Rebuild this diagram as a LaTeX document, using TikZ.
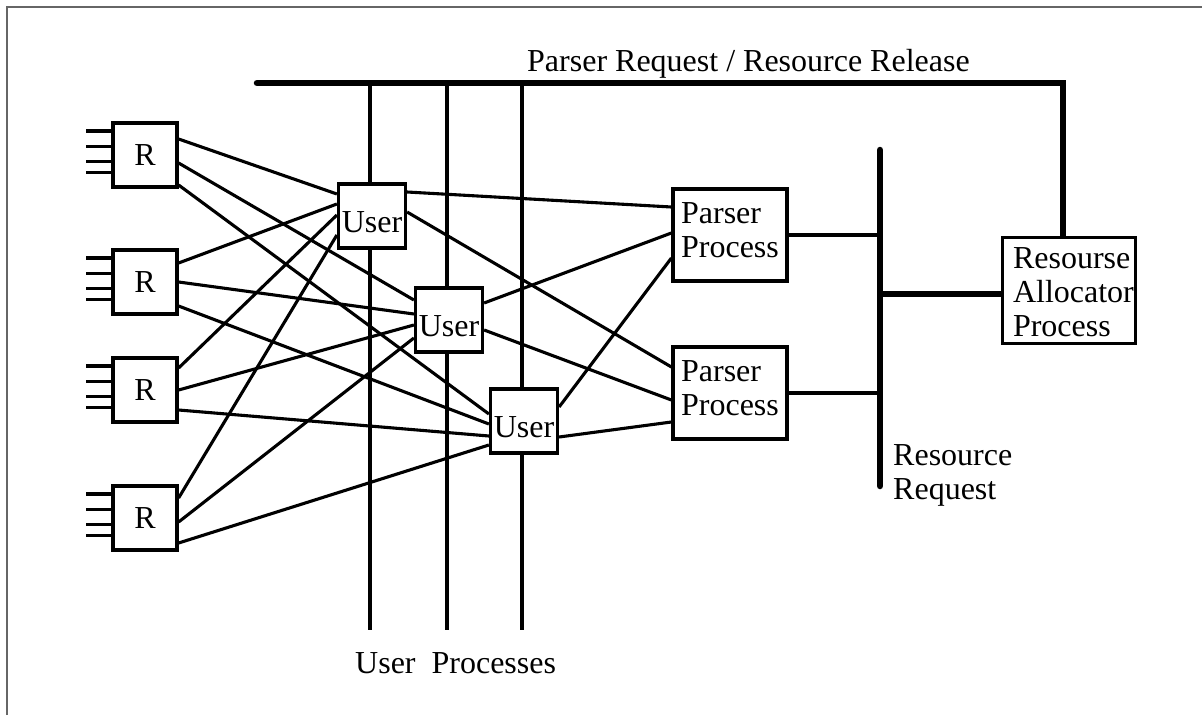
\documentclass[tikz,border=0pt]{standalone}
\usepackage{fontspec}
\setmainfont{Liberation Serif}
\usetikzlibrary{calc}
\pgfdeclarelayer{wires}
\pgfsetlayers{wires,main}
\begin{document}
\begin{tikzpicture}[x=1pt,y=-1pt,
  txt/.style={font=\fontsize{32}{34}\selectfont},
  sbox/.style={txt, draw, fill=white, line width=3.2pt, inner sep=0pt,
               minimum width=64pt, minimum height=64pt},
  ubox/.style={sbox, minimum width=67pt, text height=32pt, text depth=0pt},
  pbox/.style={txt, draw, fill=white, line width=3.2pt, inner sep=0pt,
               minimum width=114pt, minimum height=92pt, align=left},
  wire/.style={line width=3.1pt},
  heavy/.style={line width=6.5pt, line cap=round},
  lbl/.style={txt, inner sep=0pt, align=left}]

\useasboundingbox (0,0) rectangle (1202,715);
\draw[black!60, line width=1.5pt] (7,715) -- (7,7) -- (1202,7);

% resource units
\node[sbox] (r1) at (145,155) {R};
\node[sbox] (r2) at (145,282) {R};
\node[sbox] (r3) at (145,390) {R};
\node[sbox] (r4) at (145,518) {R};

% user processes
\node[ubox] (u1) at (372,216) {User};
\node[ubox] (u2) at (449,320) {User};
\node[ubox] (u3) at (524,421) {User};

% parser processes (the zero-width rule lifts the text a little)
\node[pbox] (p1) at (730,235) {Parser\\Process\rule[-10pt]{0pt}{10pt}};
\node[pbox] (p2) at (730,393) {Parser\\Process\rule[-10pt]{0pt}{10pt}};

% resource allocator, its text cut off by the frame
\node[fill=white, inner sep=0pt, minimum width=132pt, minimum height=105pt] (ra) at (1069,290.5) {};
\begin{scope}
  \clip (ra.south west) rectangle (ra.north east);
  \node[lbl, anchor=north west] (ratext) at ([xshift=10pt,yshift=-10pt]ra.north west)
    {Resourse\\Allocator\\Process};
\end{scope}
\draw[line width=3.2pt] (ra.south west) rectangle (ra.north east);

% labels
\node[lbl, anchor=base west] (bustitle) at (527,71) {Parser Request / Resource Release};
\node[lbl, anchor=base west] (ulabel) at (355,673) {User\ \ Processes};
\node[lbl, anchor=north west] (rreq) at (893,444) {Resource\\Request};

% bus end points
\coordinate (tb) at (257,83);
\coordinate (bt) at (880,150);
\coordinate (bb) at (880,486);
\coordinate (floor) at (0,630);
\coordinate (rt) at ([xshift=-6pt]ra.north);

\begin{pgfonlayer}{wires}
  % request / release bus
  \draw[heavy] (tb) -- (tb -| rt) -- (rt);
  % resource request bus
  \draw[heavy] (bt) -- (bb);
  \draw[wire] (p1.east) -- (p1.east -| bt);
  \draw[wire] (p2.east) -- (p2.east -| bt);
  \draw[line width=6.5pt] ([yshift=-3.5pt]ra.west) -- ([yshift=-3.5pt]ra.west -| bt);
  % user process lines
  \foreach \u/\x in {u1/370,u2/447,u3/522}
    \draw[wire] (\x,0 |- tb) -- (\x,0 |- floor);
  % input pins
  \foreach \r in {r1,r2,r3,r4}
    \foreach \d in {24,8.5,-6.5,-17.5}
      \draw[wire] ([yshift=\d pt]\r.west) -- ++(-25,0);
  % links
  \foreach \a/\sa/\b/\sb in {
      r1/16/u1/22, r1/-8/u2/20, r1/-30/u3/7,
      r2/19/u1/12, r2/0/u2/6, r2/-24/u3/-3,
      r3/22/u1/1, r3/0/u2/-5, r3/-20/u3/-15,
      r4/20/u1/-19, r4/-4/u2/-18, r4/-25/u3/-24,
      u1/24/p1/28, u1/4/p2/26,
      u2/17/p1/2, u2/-10/p2/-7,
      u3/14/p1/-23, u3/-16/p2/-29}
    \draw[wire] ([yshift=\sa pt]\a.east) -- ([yshift=\sb pt]\b.west);
\end{pgfonlayer}
\end{tikzpicture}
\end{document}
